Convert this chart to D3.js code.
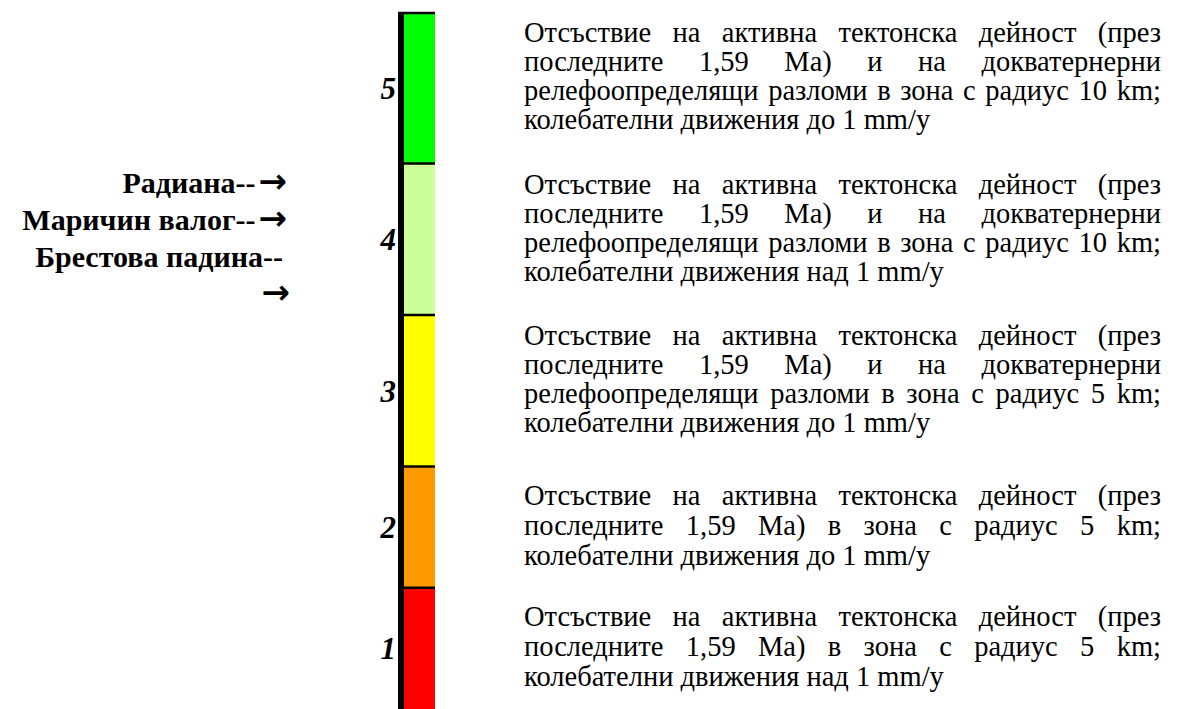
<!DOCTYPE html>
<html>
<head>
<meta charset="utf-8">
<script src="https://cdn.jsdelivr.net/npm/d3@7"></script>
<style>
  html, body { margin: 0; padding: 0; background: #fff; }
  svg { display: block; }
</style>
</head>
<body>
<svg id="chart" width="1188" height="709"></svg>
<script>
// ---------------- data ----------------
const levels = [1, 2, 3, 4, 5];
const levelSizes = [0.8, 0.8, 1, 1, 1];
const levelColors = ["#FF0000", "#FF9900", "#FFFF00", "#CCFF99", "#00FF00"];
const levelDescriptions = [
  ["Отсъствие на активна тектонска дейност (през",
   "последните 1,59 Ma) в зона с радиус 5 km;",
   "колебателни движения над 1 mm/y"],
  ["Отсъствие на активна тектонска дейност (през",
   "последните 1,59 Ma) в зона с радиус 5 km;",
   "колебателни движения до 1 mm/y"],
  ["Отсъствие на активна тектонска дейност (през",
   "последните 1,59 Ma) и на докватернерни",
   "релефоопределящи разломи в зона с радиус 5 km;",
   "колебателни движения до 1 mm/y"],
  ["Отсъствие на активна тектонска дейност (през",
   "последните 1,59 Ma) и на докватернерни",
   "релефоопределящи разломи в зона с радиус 10 km;",
   "колебателни движения над 1 mm/y"],
  ["Отсъствие на активна тектонска дейност (през",
   "последните 1,59 Ma) и на докватернерни",
   "релефоопределящи разломи в зона с радиус 10 km;",
   "колебателни движения до 1 mm/y"]
];
const siteLabels = [["Радиана--", "→"], ["Маричин валог--", "→"], ["Брестова падина--", ""], ["", "→"]];

// ---------------- layout ----------------
const W = 1188, H = 709;
const svg = d3.select("#chart");
svg.append("rect").attr("width", W).attr("height", H).attr("fill", "#fff");

const cum = [0];
levelSizes.forEach((s, i) => cum.push(cum[i] + s));
const total = cum[cum.length - 1];

const y = d3.scaleLinear().domain([0, total]).range([709, 12]);
const barX0 = 404, barX1 = 435;

const segs = levels.map((lv, i) => ({
  level: lv, lo: cum[i], hi: cum[i + 1], color: levelColors[i], desc: levelDescriptions[i]
}));

// bar segments
svg.append("g").selectAll("rect").data(segs).join("rect")
  .attr("x", barX0)
  .attr("y", d => y(d.hi))
  .attr("width", barX1 - barX0)
  .attr("height", d => y(d.lo) - y(d.hi))
  .attr("fill", d => d.color);

// separators + top border
svg.append("g").selectAll("line").data(segs.slice(0, -1).map(d => d.hi).concat([total])).join("line")
  .attr("x1", 398).attr("x2", barX1)
  .attr("y1", d => y(d) + (d === total ? 1 : 0))
  .attr("y2", d => y(d) + (d === total ? 1 : 0))
  .attr("stroke", "#000").attr("stroke-width", 2.5);

// axis (left thick line) with labels
const axisG = svg.append("g").attr("transform", "translate(401,0)");
axisG.append("line").attr("x1", 0).attr("x2", 0).attr("y1", 12).attr("y2", 709)
  .attr("stroke", "#000").attr("stroke-width", 6);
axisG.selectAll("text.lv").data(segs).join("text")
  .attr("class", "lv")
  .attr("x", -5)
  .attr("y", d => y((d.lo + d.hi) / 2))
  .attr("dy", "0.35em")
  .attr("text-anchor", "end")
  .attr("font-family", "'Liberation Serif', 'Times New Roman', serif")
  .attr("font-style", "italic")
  .attr("font-weight", "bold")
  .attr("font-size", 31)
  .text(d => d.level);

// site labels on left
const siteG = svg.append("g")
  .attr("font-family", "'Liberation Serif', 'Times New Roman', serif")
  .attr("font-weight", "bold")
  .attr("font-size", 30);
siteLabels.forEach((parts, i) => {
  const t = siteG.append("text")
    .attr("x", 287)
    .attr("y", 193 + i * 37)
    .attr("text-anchor", "end");
  if (parts[0]) t.append("tspan").text(parts[0]);
  if (parts[1]) t.append("tspan")
    .attr("font-family", "'DejaVu Sans', sans-serif")
    .attr("font-size", 34)
    .attr("font-weight", "bold")
    .attr("dx", 3)
    .text(parts[1]);
  if (!parts[1]) t.attr("x", 283);
});

// descriptions, justified (no transforms: size is adjusted to fit)
const textLeft = 524, textRight = 1161;
const lineH = 29;
const fam = "'Liberation Serif', 'Times New Roman', serif";
const descG = svg.append("g").attr("font-family", fam).attr("fill", "#000");
function natWidth(s, fs) {
  const p = descG.append("text").attr("font-size", fs).text(s);
  const w = p.node().getComputedTextLength();
  p.remove();
  return w;
}
let fontSize = 28.5;
const longest = natWidth("релефоопределящи разломи в зона с радиус 10 km;", fontSize);
if (longest > 630) fontSize = fontSize * 630 / longest;
descG.attr("font-size", fontSize);
const availW = textRight - textLeft;

segs.forEach(seg => {
  const n = seg.desc.length;
  const midY = y((seg.lo + seg.hi) / 2);
  const firstBase = midY - (n - 1) * lineH / 2 + (n === 4 ? -2 : 7);
  const pg = descG.append("g");
  seg.desc.forEach((line, li) => {
    const by = firstBase + li * lineH + (n === 3 ? li * 1 : 0);
    if (li === n - 1) {
      pg.append("text").attr("x", textLeft).attr("y", by).text(line);
      return;
    }
    const words = line.split(" ");
    const nodes = words.map(w => pg.append("text").attr("y", by).text(w));
    const widths = nodes.map(t => t.node().getComputedTextLength());
    const sum = d3.sum(widths);
    const gap = words.length > 1 ? (availW - sum) / (words.length - 1) : 0;
    let x = textLeft;
    nodes.forEach((t, k) => { t.attr("x", x); x += widths[k] + gap; });
  });
});
</script>
</body>
</html>
